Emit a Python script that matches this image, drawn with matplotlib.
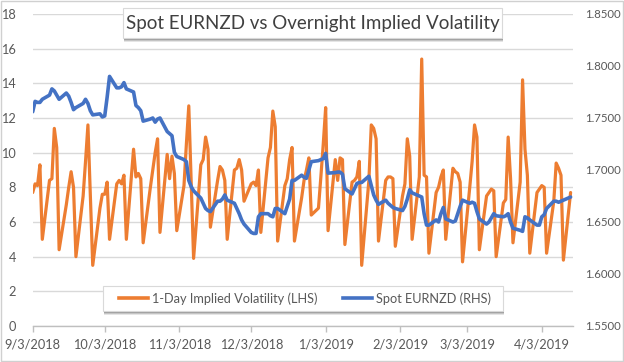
import matplotlib
matplotlib.use("Agg")
import matplotlib.pyplot as plt
import pandas as pd
from matplotlib.patches import Rectangle
from matplotlib.lines import Line2D

plt.rcParams['font.family'] = ['Lato', 'DejaVu Sans']

# ---------------- data ----------------
start_date = "2018-09-03"
end_date = "2019-04-15"

# 1-day implied volatility (LHS), one value per business day (Mon..Fri per row)
vol_1day = [
    7.7, 8.2, 8.1, 9.3, 5.0,
    8.4, 8.5, 11.4, 10.3, 4.4,
    7.0, 8.0, 8.9, 8.0, 4.0,
    7.5, 9.5, 11.6, 7.5, 3.5,
    6.8, 7.6, 7.6, 8.3, 5.0,
    8.2, 8.4, 8.2, 8.7, 5.0,
    10.2, 8.6, 8.8, 8.5, 4.8,
    8.0, 9.0, 10.0, 10.8, 5.4,
    9.9, 8.5, 9.8, 8.8, 5.5,
    8.1, 10.5, 12.7, 8.2, 3.9,
    9.3, 9.6, 10.9, 10.2, 5.7,
    8.4, 9.2, 9.0, 8.4, 5.0,
    9.0, 9.1, 9.6, 9.0, 7.2,
    8.2, 8.3, 8.1, 9.0, 5.4,
    9.7, 10.3, 12.4, 11.5, 4.9,
    8.1, 8.5, 9.6, 10.3, 4.9,
    7.4, 8.4, 9.0, 9.7, 6.4,
    6.8, 8.6, 10.5, 12.6, 5.5,
    9.6, 8.4, 9.7, 9.6, 4.7,
    8.3, 8.4, 8.6, 9.5, 3.5,
    8.4, 11.6, 11.4, 10.8, 4.9,
    8.4, 8.6, 8.6, 8.5, 4.6,
    7.5, 8.2, 10.8, 9.8, 5.0,
    8.6, 15.4, 8.7, 8.6, 4.2,
    7.7, 8.0, 8.6, 9.0, 5.0,
    9.1, 8.9, 8.8, 8.3, 3.7,
    8.0, 9.5, 11.6, 10.9, 4.4,
    7.5, 7.7, 7.9, 7.8, 4.0,
    7.1, 7.3, 10.9, 8.5, 4.8,
    8.3, 14.2, 10.2, 8.7, 4.2,
    7.7, 7.9, 8.1, 8.0, 4.2,
    7.2, 9.4, 9.1, 8.7, 3.8,
    7.7,
]

# Spot EURNZD (RHS), one value per business day
spot_eurnzd = [
    1.756, 1.766, 1.765, 1.765, 1.768,
    1.772, 1.778, 1.776, 1.772, 1.768,
    1.774, 1.771, 1.765, 1.758, 1.760,
    1.764, 1.768, 1.764, 1.757, 1.753,
    1.754, 1.751, 1.752, 1.770, 1.790,
    1.779, 1.779, 1.780, 1.784, 1.778,
    1.775, 1.762, 1.760, 1.757, 1.747,
    1.749, 1.750, 1.746, 1.749, 1.750,
    1.737, 1.735, 1.733, 1.717, 1.713,
    1.710, 1.708, 1.690, 1.684, 1.680,
    1.673, 1.668, 1.663, 1.661, 1.660,
    1.670, 1.670, 1.672, 1.676, 1.671,
    1.668, 1.663, 1.658, 1.652, 1.648,
    1.640, 1.639, 1.639, 1.655, 1.658,
    1.658, 1.656, 1.655, 1.663, 1.663,
    1.658, 1.665, 1.672, 1.690, 1.690,
    1.695, 1.693, 1.692, 1.700, 1.708,
    1.709, 1.710, 1.711, 1.716, 1.697,
    1.6975, 1.698, 1.698, 1.696, 1.682,
    1.677, 1.682, 1.687, 1.688, 1.688,
    1.694, 1.685, 1.676, 1.671, 1.667,
    1.671, 1.668, 1.666, 1.664, 1.663,
    1.661, 1.665, 1.672, 1.681, 1.678,
    1.675, 1.674, 1.658, 1.647, 1.647,
    1.652, 1.650, 1.658, 1.664, 1.653,
    1.650, 1.651, 1.658, 1.665, 1.671,
    1.668, 1.669, 1.668, 1.660, 1.653,
    1.648, 1.650, 1.654, 1.658, 1.656,
    1.655, 1.656, 1.658, 1.650, 1.644,
    1.642, 1.641, 1.655, 1.654, 1.652,
    1.647, 1.647, 1.655, 1.657, 1.663,
    1.670, 1.670, 1.669, 1.670, 1.671,
    1.674,
]

x_tick_labels = ["9/3/2018", "10/3/2018", "11/3/2018", "12/3/2018",
                 "1/3/2019", "2/3/2019", "3/3/2019", "4/3/2019"]
left_ticks = [0, 2, 4, 6, 8, 10, 12, 14, 16, 18]
right_ticks = [1.55, 1.60, 1.65, 1.70, 1.75, 1.80, 1.85]
title_text = "Spot EURNZD vs Overnight Implied Volatility"
series_names = ["1-Day Implied Volatility (LHS)", "Spot EURNZD (RHS)"]

# ---------------- styling ----------------
ORANGE = "#ED7D31"
BLUE = "#4472C4"
GRID = "#d9d9d9"
TXT = "#595959"

W, H = 624, 362
fig = plt.figure(figsize=(W / 100, H / 100), dpi=100)
fig.patch.set_facecolor("white")


def fx(px):
    return px / W


def fy(py):
    return 1 - py / H


def shadow_box(x0, y0, x1, y1):
    # soft shadow then white box (pixel coordinates)
    for off, a in [(3.5, 0.10), (2.5, 0.14), (1.5, 0.18)]:
        fig.patches.append(Rectangle((fx(x0 + off * 0.4), fy(y1 + off)),
                                     fx(x1) - fx(x0), fy(y0) - fy(y1),
                                     transform=fig.transFigure, facecolor="black",
                                     alpha=a, edgecolor="none", zorder=5))
    fig.patches.append(Rectangle((fx(x0), fy(y1)), fx(x1) - fx(x0), fy(y0) - fy(y1),
                                 transform=fig.transFigure, facecolor="white",
                                 edgecolor="#d9d9d9", linewidth=0.8, zorder=6))


# figure border
fig.patches.append(Rectangle((0.001, 0.002), 0.997, 0.995, transform=fig.transFigure,
                             facecolor="none", edgecolor="#d0d0d0", linewidth=1.0, zorder=0))

ax = fig.add_axes([fx(32.7), fy(326), fx(573) - fx(32.7), fy(14) - fy(326)])
ax2 = ax.twinx()

dates = pd.bdate_range(start_date, end_date)

ax.plot(dates, vol_1day, color=ORANGE, linewidth=2.3, solid_joinstyle="round",
        solid_capstyle="round", zorder=3)
ax2.plot(dates, spot_eurnzd, color=BLUE, linewidth=2.6, solid_joinstyle="round",
         solid_capstyle="round", zorder=3)

ax.set_xlim(pd.Timestamp(start_date), pd.Timestamp(end_date) + pd.Timedelta(days=1))
ax.set_ylim(0, 18)
ax2.set_ylim(1.55, 1.85)

ax.set_yticks(left_ticks)
ax.set_yticklabels([str(t) for t in left_ticks])
ax2.set_yticks(right_ticks)
ax2.set_yticklabels([f"{t:.4f}" for t in right_ticks])

tick_dates = [pd.to_datetime(s, format="%m/%d/%Y") for s in x_tick_labels]
ax.set_xticks(tick_dates)
ax.set_xticklabels(x_tick_labels)

ax.grid(axis="y", color=GRID, linewidth=1.0)
ax.set_axisbelow(True)

for a in (ax, ax2):
    for s in ("top", "left", "right"):
        a.spines[s].set_visible(False)
ax2.spines["bottom"].set_visible(False)
ax.spines["bottom"].set_color("#bfbfbf")
ax.spines["bottom"].set_linewidth(1.0)

ax.tick_params(axis="y", length=0, pad=12, labelsize=9.2, labelcolor=TXT)
ax2.tick_params(axis="y", length=0, pad=9, labelsize=8.2, labelcolor=TXT)
ax.tick_params(axis="x", length=4, width=1.0, color="#bfbfbf", pad=5,
               labelsize=9.2, labelcolor=TXT)

# title box
shadow_box(123, 8, 502, 38)
fig.text(fx(312.5), fy(23.5), title_text, ha="center", va="center",
         fontsize=13.5, color="#404040", zorder=10)

# legend box
shadow_box(103, 286, 503, 311)
handles = [Line2D([], [], color=ORANGE, linewidth=2.6),
           Line2D([], [], color=BLUE, linewidth=2.6)]
leg = fig.legend(handles, series_names, loc="center",
                 bbox_to_anchor=(fx(305), fy(298.5)), ncol=2, frameon=False,
                 fontsize=9.2, handlelength=2.3, handletextpad=0.3,
                 columnspacing=2.0, labelcolor=TXT)
leg.set_zorder(10)

fig.savefig("out.png", dpi=100, facecolor="white")
